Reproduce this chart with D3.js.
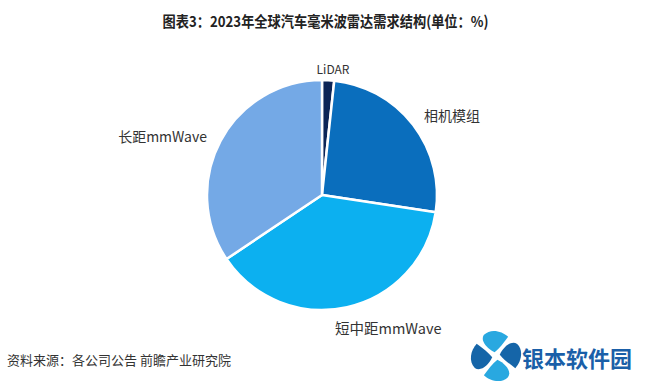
<!DOCTYPE html>
<html>
<head>
<meta charset="utf-8">
<script src="https://cdn.jsdelivr.net/npm/d3@7"></script>
<style>
  body { margin: 0; background: #fff; }
  svg { display: block; font-family: "Noto Sans CJK SC", "Noto Sans", sans-serif; }
</style>
</head>
<body>
<svg width="651" height="383"></svg>
<script>
  // data (shares in %)
  const categories = ['LiDAR', '相机模组', '短中距mmWave', '长距mmWave'];
  const shares = [1.7, 25.7, 38.2, 34.4];
  const colors = ['#0c2557', '#0a6ebd', '#0cb0f0', '#74a9e6'];
  const title = '图表3：2023年全球汽车毫米波雷达需求结构(单位：%)';
  const source = '资料来源：各公司公告 前瞻产业研究院';

  const svg = d3.select('svg');
  const width = +svg.attr('width');
  const height = +svg.attr('height');

  const cx = 322;
  const cy = 195;
  const radius = 115;

  const data = categories.map((c, i) => ({ name: c, value: shares[i], color: colors[i] }));

  const pie = d3.pie()
    .value(d => d.value)
    .sort(null);

  const arc = d3.arc()
    .innerRadius(0)
    .outerRadius(radius);

  const g = svg.append('g')
    .attr('transform', `translate(${cx},${cy})`);

  const arcs = pie(data);

  g.selectAll('path').data(arcs)
    .enter().append('path')
      .attr('d', arc)
      .attr('fill', d => d.data.color)
      .attr('stroke', '#fff')
      .attr('stroke-width', 2.5)
      .attr('stroke-linejoin', 'round');

  // label placement, offsets tuned by eye
  const labelPos = {
    'LiDAR': { x: 11, y: -127, anchor: 'middle' },
    '相机模组': { x: 102, y: -80, anchor: 'start' },
    '短中距mmWave': { x: 13, y: 132, anchor: 'start' },
    '长距mmWave': { x: -115, y: -59, anchor: 'end' }
  };

  g.selectAll('text.label').data(arcs)
    .enter().append('text')
      .attr('class', 'label')
      .attr('x', d => labelPos[d.data.name].x)
      .attr('y', d => labelPos[d.data.name].y)
      .attr('text-anchor', d => labelPos[d.data.name].anchor)
      .attr('dominant-baseline', 'central')
      .attr('font-size', d => d.data.name === 'LiDAR' ? 12 : (d.data.name === '短中距mmWave' ? 14.5 : 14))
      .attr('fill', '#333')
      .text(d => d.data.name);

  svg.append('text')
    .attr('x', width / 2)
    .attr('y', 20)
    .attr('text-anchor', 'middle')
    .attr('dominant-baseline', 'central')
    .attr('font-size', 15)
    .attr('font-weight', 'bold')
    .attr('fill', '#222')
    .attr('textLength', 326)
    .attr('lengthAdjust', 'spacingAndGlyphs')
    .text(title);

  svg.append('text')
    .attr('x', 7)
    .attr('y', 359)
    .attr('dominant-baseline', 'central')
    .attr('font-size', 13)
    .attr('fill', '#333')
    .text(source);

  // site logo bottom right
  const logo = svg.append('g')
    .attr('transform', 'translate(496,356)');
  const petal = 'M0,-4 C-6,-10 -10,-20 -4,-24 C4,-28 14,-22 18,-14 C12,-10 6,-6 0,-4 Z';
  [0, 90, 180, 270].forEach((a, i) => {
    logo.append('path')
      .attr('d', petal)
      .attr('transform', `rotate(${a - 20})`)
      .attr('fill', i % 2 === 0 ? '#29a8e0' : '#1565a8');
  });
  svg.append('text')
    .attr('x', 522)
    .attr('y', 357)
    .attr('dominant-baseline', 'central')
    .attr('font-size', 22)
    .attr('font-weight', 'bold')
    .attr('fill', '#1a5fa8')
    .text('银本软件园');
</script>
</body>
</html>
